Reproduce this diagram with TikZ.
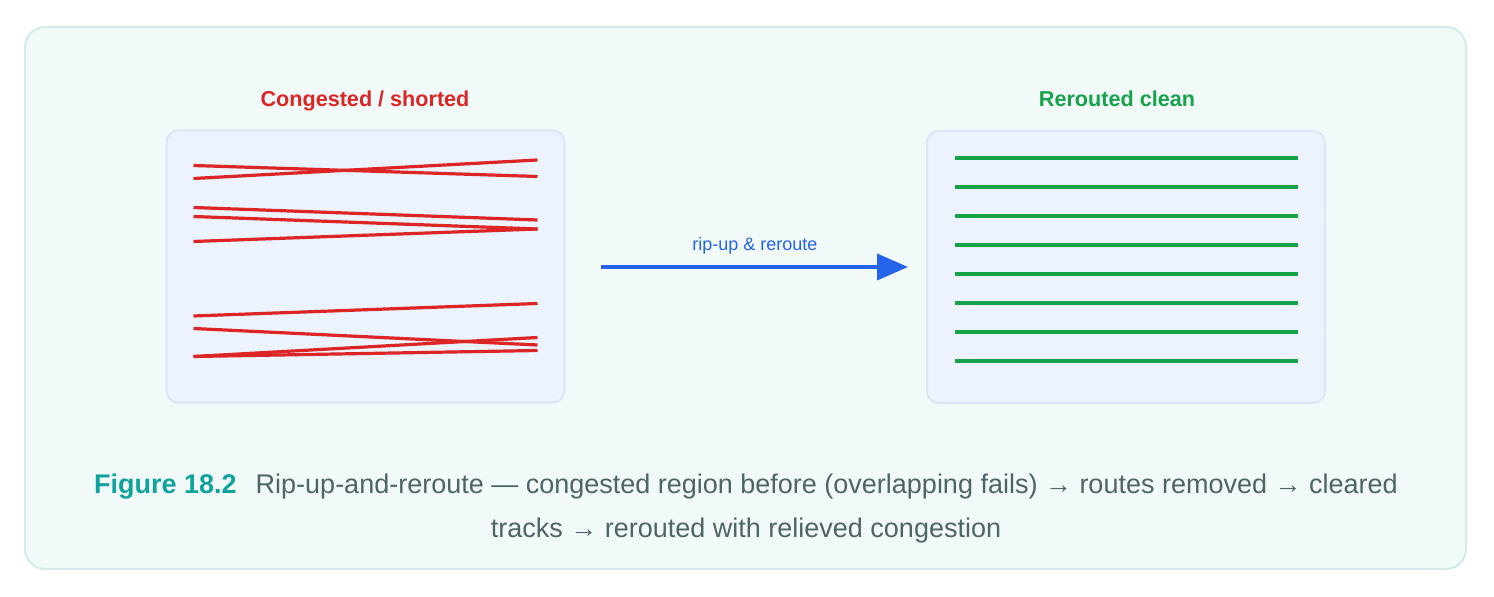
\documentclass[tikz,border=0pt]{standalone}
\usepackage{fontspec}
\setmainfont{Liberation Sans}
\usetikzlibrary{arrows.meta}
\definecolor{routered}{HTML}{DC2626}
\definecolor{routegreen}{HTML}{16A34A}
\definecolor{ripblue}{HTML}{2563EB}
\definecolor{panelfill}{HTML}{EDF3FC}
\definecolor{panelline}{HTML}{DCE5F3}
\definecolor{framefill}{HTML}{F2FAF9}
\definecolor{frameline}{HTML}{D4ECE9}
\definecolor{capteal}{HTML}{10A39D}
\definecolor{capgray}{HTML}{4F6466}
\begin{document}
\begin{tikzpicture}[x=0.5pt, y=-0.5pt,
    panel/.style={draw=panelline, fill=panelfill, line width=1pt, rounded corners=6pt,
      minimum width=199pt, minimum height=136pt, inner sep=0pt},
    badwire/.style={routered, line width=1.6pt},
    goodwire/.style={routegreen, line width=1.6pt},
    paneltitle/.style={font=\fontsize{10.8}{13}\selectfont\bfseries, anchor=base},
    captext/.style={font=\fontsize{13.5}{16}\selectfont, text=capgray, anchor=base}]
  \useasboundingbox (0,0) rectangle (1494,597);
  \draw[fill=framefill, draw=frameline, line width=1pt, rounded corners=10pt] (25,27) rectangle (1466,569);

  % the two regions
  \node[panel] (before) at (365.5,266.5) {};
  \node[panel] (after) at (1126,267) {};
  \node[paneltitle, text=routered] (beforetitle) at (365,107) {Congested / shorted};
  \node[paneltitle, text=routegreen] (aftertitle) at (1117,107) {Rerouted clean};

  % overlapping routes
  \foreach \ya/\yb in {165.5/176.5, 178.5/160, 207.5/220, 216.5/229, 241.5/229,
                       316/303.5, 328.5/345, 356.5/337.5, 356.5/350.5} {
    \draw[badwire] (193.5,\ya) -- (537.5,\yb);
  }
  % clean tracks
  \foreach \y in {158, 187, ..., 361} {
    \draw[goodwire] (955,\y) -- (1298,\y);
  }

  % rip-up arrow
  \coordinate (ripstart) at (601,267);
  \coordinate (ripend) at (908,267);
  \draw[ripblue, line width=2pt, -{Triangle[length=15.5pt, width=13pt]}] (ripstart) -- (ripend);
  \node[text=ripblue, font=\fontsize{9}{11}\selectfont] (riplabel) at (755,246) {rip-up \& reroute};

  % caption
  \node[captext] (capline1) at (746,494) {{\color{capteal}\bfseries Figure 18.2}\hspace{9.5pt}Rip-up-and-reroute — congested region before (overlapping fails) → routes removed → cleared};
  \node[captext] (capline2) at (746,538) {tracks → rerouted with relieved congestion};
\end{tikzpicture}
\end{document}
